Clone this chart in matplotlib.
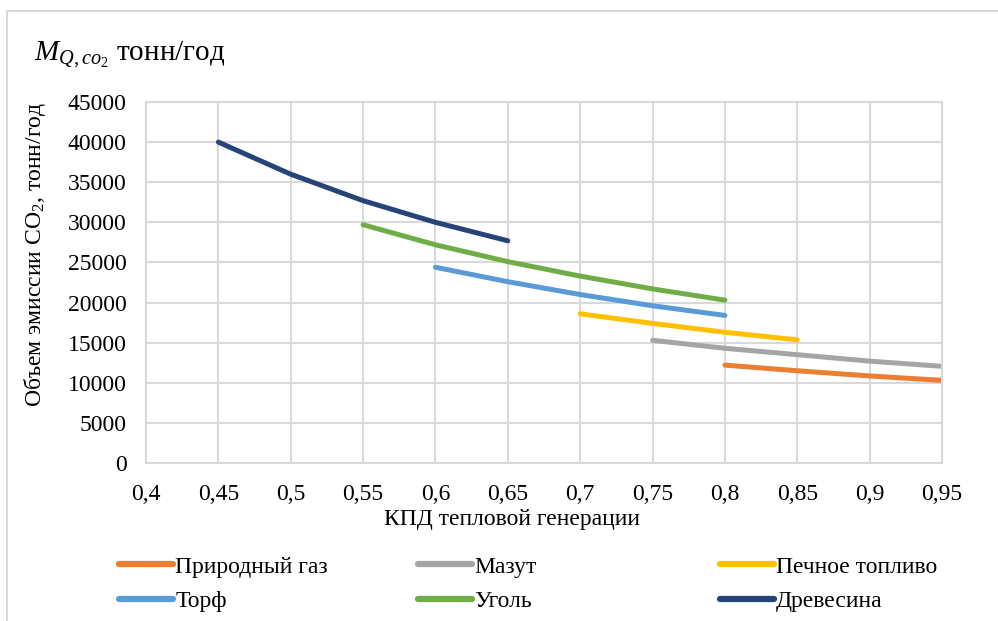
import matplotlib
matplotlib.use("Agg")
import matplotlib.pyplot as plt
from matplotlib.lines import Line2D
from matplotlib.patches import Rectangle

plt.rcParams['font.family'] = ['Liberation Serif', 'DejaVu Serif']
plt.rcParams['mathtext.fontset'] = 'custom'
plt.rcParams['mathtext.rm'] = 'Liberation Serif'
plt.rcParams['mathtext.it'] = 'Liberation Serif:italic'

# ---- data ----
gas_x = [0.80, 0.85, 0.90, 0.95]
gas_y = [12200, 11500, 10850, 10300]
mazut_x = [0.75, 0.80, 0.85, 0.90, 0.95]
mazut_y = [15300, 14300, 13500, 12700, 12050]
pech_x = [0.70, 0.75, 0.80, 0.85]
pech_y = [18600, 17400, 16300, 15350]
torf_x = [0.60, 0.65, 0.70, 0.75, 0.80]
torf_y = [24400, 22600, 21000, 19600, 18400]
coal_x = [0.55, 0.60, 0.65, 0.70, 0.75, 0.80]
coal_y = [29700, 27200, 25100, 23300, 21700, 20300]
wood_x = [0.45, 0.50, 0.55, 0.60, 0.65]
wood_y = [40000, 36000, 32700, 30000, 27700]

labels = ["Природный газ", "Мазут", "Печное топливо", "Торф", "Уголь", "Древесина"]
colors = ["#ED7D31", "#A5A5A5", "#FFC000", "#5B9BD5", "#70AD47", "#264478"]

x_ticks = [0.4, 0.45, 0.5, 0.55, 0.6, 0.65, 0.7, 0.75, 0.8, 0.85, 0.9, 0.95]
x_ticklabels = ["0,4", "0,45", "0,5", "0,55", "0,6", "0,65", "0,7", "0,75", "0,8", "0,85", "0,9", "0,95"]
y_ticks = [0, 5000, 10000, 15000, 20000, 25000, 30000, 35000, 40000, 45000]
y_ticklabels = [str(v) for v in y_ticks]

W, H = 998, 621
fig = plt.figure(figsize=(W / 100, H / 100), dpi=100)

# outer chart frame
fig.patches.append(Rectangle((7 / W, -0.1), 1.2, (H - 11) / H + 0.1, transform=fig.transFigure,
                             fill=False, edgecolor="#d9d9d9", linewidth=1.5))

ax = fig.add_axes([146 / W, (H - 463) / H, (942 - 146) / W, (463 - 102) / H])

series = [(gas_x, gas_y), (mazut_x, mazut_y), (pech_x, pech_y),
          (torf_x, torf_y), (coal_x, coal_y), (wood_x, wood_y)]
for (xs, ys), lab, col in zip(series, labels, colors):
    ax.plot(xs, ys, color=col, linewidth=3.6, solid_capstyle='round', label=lab)

ax.set_xlim(0.4, 0.95)
ax.set_ylim(0, 45000)
ax.set_xticks(x_ticks)
ax.set_xticklabels(x_ticklabels, fontsize=17)
ax.set_yticks(y_ticks)
ax.set_yticklabels(y_ticklabels, fontsize=17)
ax.tick_params(axis='y', length=0, pad=14)
ax.tick_params(axis='x', length=0, pad=15)
ax.grid(True, color="#d9d9d9", linewidth=1.5)
ax.set_axisbelow(True)
for s in ax.spines.values():
    s.set_color("#d9d9d9")
    s.set_linewidth(1.5)

# titles / labels
fig.text(34 / W, 1 - 55 / H, r'$M_{Q,co_2}$ тонн/год', fontsize=21, va='center', ha='left')
fig.text(35 / W, 1 - 254 / H, r'Объем эмиссии CO$_2$, тонн/год', fontsize=17,
         rotation=90, va='center', ha='center')
fig.text(512 / W, 1 - 520 / H, 'КПД тепловой генерации', fontsize=17, va='center', ha='center')

# legend: three columns placed like the reference
col_x = [119, 418, 720]
for i, cx in enumerate(col_x):
    hs = [Line2D([], [], color=colors[i], linewidth=4.5, solid_capstyle='round'),
          Line2D([], [], color=colors[i + 3], linewidth=4.5, solid_capstyle='round')]
    fig.legend(hs, [labels[i], labels[i + 3]], loc='upper left',
               bbox_to_anchor=(cx / W, 1 - 556 / H), frameon=False,
               fontsize=17, handlelength=2.3, handletextpad=0.08,
               borderpad=0, borderaxespad=0, labelspacing=0.56)

fig.savefig("out.png", dpi=100)
